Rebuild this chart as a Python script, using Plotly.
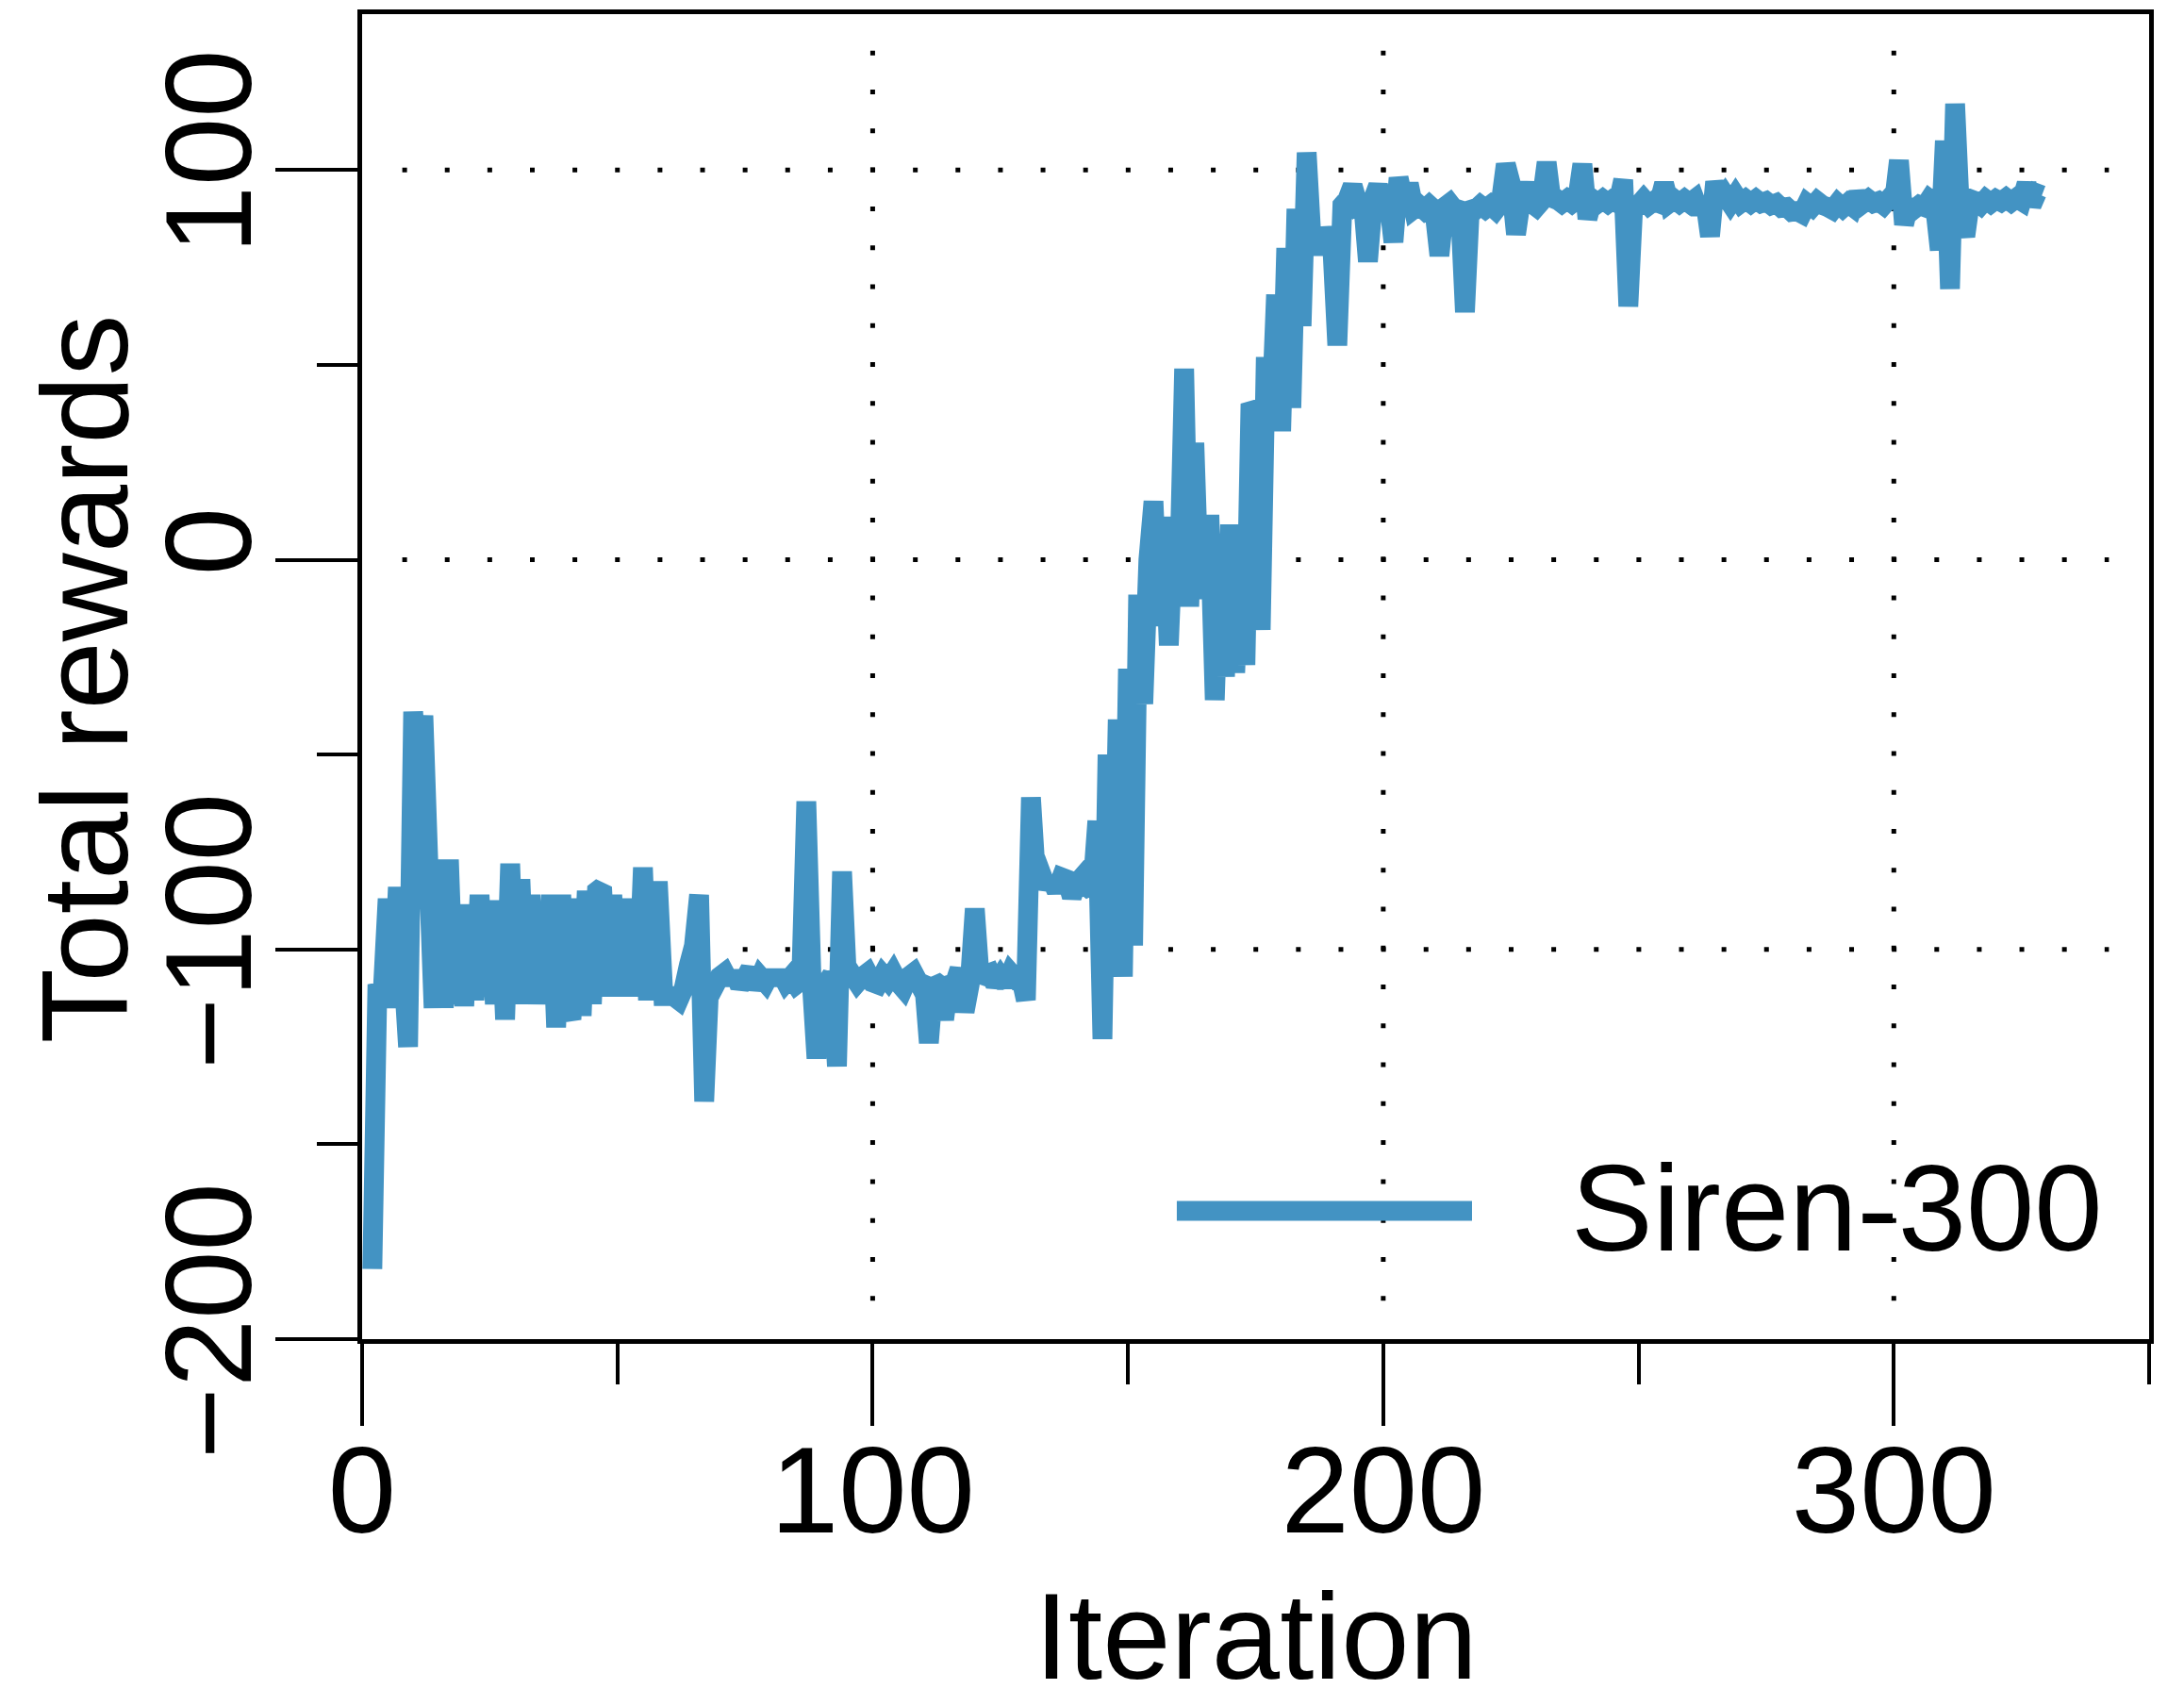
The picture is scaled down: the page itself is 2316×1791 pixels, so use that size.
import plotly.graph_objects as go

# Total reward per training iteration, read in three phases
first_iteration = 2

rewards_exploration = [  # iterations 2-130
    -182, -109, -112, -87, -115, -84, -104, -125, -39, -58,
    -40, -79, -115, -77, -115, -77, -114, -88.5, -114.5, -88.5,
    -113, -86, -112, -87.5, -114, -88, -118, -78, -114, -82,
    -114, -86, -114, -88.5, -114, -86, -120, -86, -114, -118,
    -87, -117, -85, -114, -85, -84, -112, -86, -112, -87,
    -112, -87, -112, -79, -113, -85, -85, -112, -112, -112,
    -113, -110, -104, -99, -86, -139, -108.5, -109.5, -107, -106,
    -108.5, -106, -109.5, -107.5, -105, -110, -107, -108.5, -106, -108.5,
    -106, -108.5, -107, -109, -108, -62, -107, -128, -107, -108.5,
    -106.5, -130, -80, -108.5, -106.5, -108.5, -107, -106, -108.5, -109,
    -106.5, -108, -106, -108.5, -110, -107, -106, -108.5, -107.5, -124,
    -108, -109, -118, -107.5, -109, -105, -116, -109, -89.5, -108,
    -106.5, -106, -109, -107, -109, -106, -107.5, -107, -113,
]

rewards_climb = [  # iterations 131-192
    -61, -82, -80.5, -84, -82, -85, -81.5, -82, -86.5, -83,
    -81.5, -84, -85, -67, -123, -50, -104, -41, -107, -28,
    -99, -9, -37, 0, 15, -17, 11, -22, 10, -5,
    49, -12, 30, -10, 9, 9, -36, 3, -30, 9,
    -29, 5, -27, 40, 38, -18, 52, 35, 68, 33,
    80, 39, 90, 60, 104.5, 81, 84, 78.5, 85, 81,
    55, 91,
]

rewards_converged = [  # iterations 193-329
    92.5, 96, 91.5, 92.5, 76.5, 92.5, 96, 91.5, 93, 81.5,
    98, 92, 96.5, 90, 91, 89.8, 91, 89.8, 78, 90.5,
    91.5, 89.8, 91.5, 63.5, 91.5, 89.8, 91, 90, 91, 89.8,
    91.5, 101.5, 96.5, 83.5, 92.5, 96.5, 91.5, 90.5, 92, 102,
    91.5, 92.5, 91.5, 92.5, 91.5, 92.5, 101.5, 87.5, 92.5, 91.5,
    92.5, 91.5, 92.5, 91.5, 97.5, 65, 92, 91, 92.5, 91,
    92, 91.5, 96.5, 91.5, 92.5, 91.5, 92.5, 91.5, 92.5, 89,
    92.5, 83, 97, 91.5, 93.5, 91.5, 93.5, 91.5, 92.5, 91.5,
    92.5, 91.5, 92, 91, 91.5, 90.3, 90.5, 89.3, 89.5, 88.8,
    91.5, 90.5, 92, 91, 90.5, 89.8, 91.5, 90.3, 91.5, 90.5,
    94, 91.5, 92.5, 91.5, 92, 91, 92.5, 91.5, 102.5, 86,
    91.5, 90, 91, 90.5, 92.5, 91.5, 79.5, 107.5, 69.5, 117,
    88, 83, 92.5, 92, 91, 92.5, 91.5, 92.5, 91.8, 92.8,
    91.8, 92.8, 92, 96.5, 91, 94, 93.5,
]

rewards = rewards_exploration + rewards_climb + rewards_converged
iterations = list(range(first_iteration, first_iteration + len(rewards)))

series_name = "Siren-300"
x_title = "Iteration"
y_title = "Total rewards"
x_range = [0, 350]
y_range = [-200, 140]
grid_x = [100, 200, 300]
grid_y = [-100, 0, 100]

line_color = "#4393C3"
font_family = "Liberation Sans, Arial, Helvetica, sans-serif"

fig = go.Figure()
fig.add_trace(go.Scatter(
    x=iterations, y=rewards, mode="lines", name=series_name,
    line=dict(color=line_color, width=21, simplify=False),
    hoverinfo="skip", showlegend=False,
))

# dotted reference grid, inset from the frame
for gx in grid_x:
    fig.add_shape(type="line", xref="x", yref="y", x0=gx, x1=gx,
                  y0=130.6, y1=-190.6, layer="below",
                  line=dict(color="black", width=5, dash="5px,36.26px"))
for gy in grid_y:
    fig.add_shape(type="line", xref="x", yref="y", x0=7.87, x1=342.13,
                  y0=gy, y1=gy, layer="below",
                  line=dict(color="black", width=5, dash="5px,40.13px"))

# legend key drawn inside the frame, lower right
fig.add_shape(type="line", xref="paper", yref="paper",
              x0=0.4559, x1=0.6211, y0=0.0968, y1=0.0968,
              line=dict(color=line_color, width=21))
fig.add_annotation(xref="paper", yref="paper", x=0.6755, y=0.0986,
                   xanchor="left", yanchor="middle", showarrow=False,
                   text=series_name, font=dict(size=130, color="black"))

# axis titles, placed close to the page edges
fig.add_annotation(xref="paper", yref="paper", x=0.5, y=-0.2242,
                   xanchor="center", yanchor="middle", showarrow=False,
                   text=x_title, font=dict(size=130, color="black"))
fig.add_annotation(xref="paper", yref="paper", x=-0.1549, y=0.4982,
                   xanchor="center", yanchor="middle", showarrow=False,
                   textangle=-90, text=y_title,
                   font=dict(size=130, color="black"))

axis_common = dict(
    showline=True, linewidth=5, linecolor="black", mirror=True,
    ticks="outside", ticklen=87, tickwidth=4, tickcolor="black",
    showgrid=False, zeroline=False, tick0=0, dtick=100,
    tickfont=dict(size=130, color="black"),
    minor=dict(ticks="outside", ticklen=43, tickwidth=4, tickcolor="black",
               tick0=0, dtick=50, showgrid=False),
)
fig.update_xaxes(range=x_range, ticklabelstandoff=-43, **axis_common)
fig.update_yaxes(range=y_range, tickangle=-90, ticklabelstandoff=-26,
                 **axis_common)

fig.update_layout(
    width=2316, height=1791,
    margin=dict(l=384, r=37, t=15, b=371, autoexpand=False),
    paper_bgcolor="white", plot_bgcolor="white",
    font=dict(family=font_family, size=130, color="black"),
    showlegend=False,
)

fig.write_html("out.html")
